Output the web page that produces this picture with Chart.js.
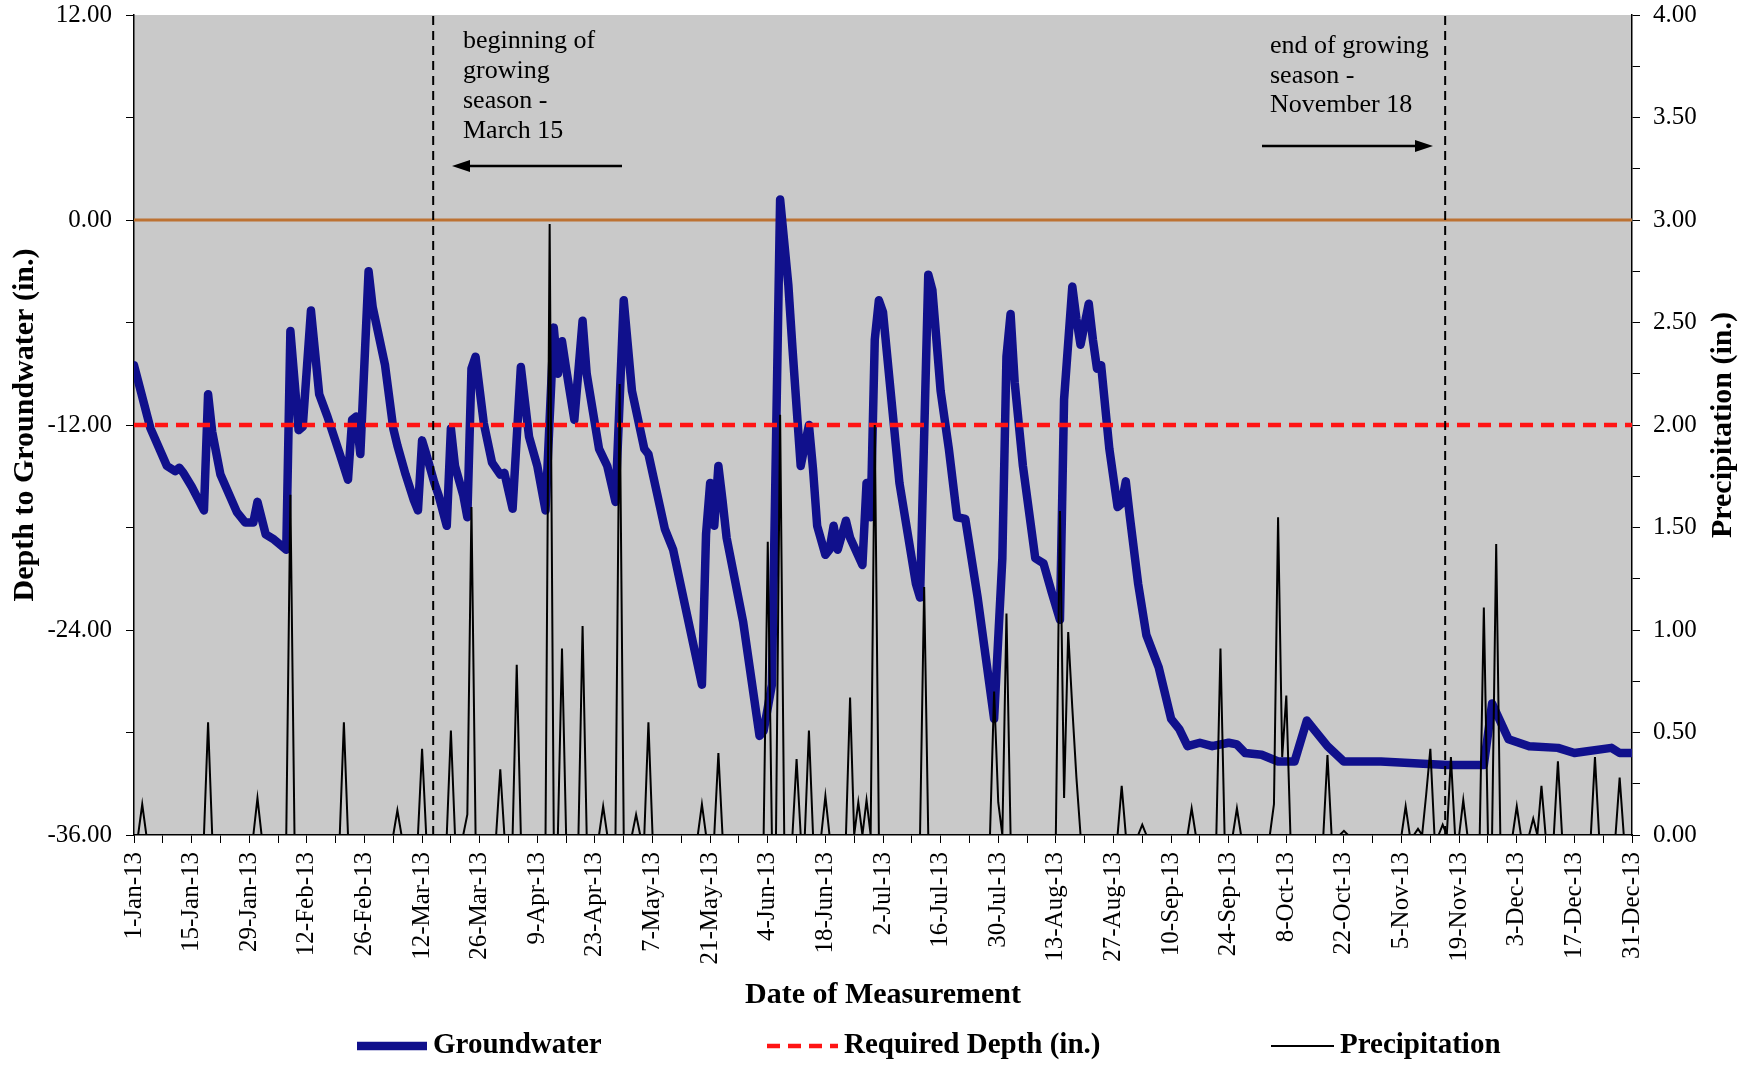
<!DOCTYPE html>
<html>
<head>
<meta charset="utf-8">
<title>Depth to Groundwater and Precipitation, 2013</title>
<script src="https://cdn.jsdelivr.net/npm/chart.js@4.4.1/dist/chart.umd.min.js"></script>
<style>
  html, body { margin: 0; padding: 0; background: #fff; }
  #wrap { width: 1748px; height: 1065px; }
</style>
</head>
<body>
<div id="wrap"><canvas id="gwChart" width="1748" height="1065"></canvas></div>
<script>
// Groundwater / precipitation chart for 2013 - Chart.js

// x tick labels, one every 14 days starting 1-Jan (day 0)
const dateTicks = ['1-Jan-13', '15-Jan-13', '29-Jan-13', '12-Feb-13', '26-Feb-13', '12-Mar-13', '26-Mar-13',
    '9-Apr-13', '23-Apr-13', '7-May-13', '21-May-13', '4-Jun-13', '18-Jun-13', '2-Jul-13', '16-Jul-13',
    '30-Jul-13', '13-Aug-13', '27-Aug-13', '10-Sep-13', '24-Sep-13', '8-Oct-13', '22-Oct-13', '5-Nov-13',
    '19-Nov-13', '3-Dec-13', '17-Dec-13', '31-Dec-13'];

// groundwater depth (in.) - day of year (0 = 1-Jan) and value at each turning point
const gwDay = [0, 4, 8, 10, 11, 12, 14, 17, 18, 19, 21, 25, 27, 29, 30, 32, 34, 37, 38, 40, 41, 43, 45, 47, 50,
    52, 53, 54, 55, 57, 58, 61, 63, 64, 66, 68, 69, 70, 71, 73, 74, 76, 77, 78, 80, 81, 82, 83, 85, 87, 89, 90,
    92, 94, 96, 98, 100, 102, 103, 104, 105, 107, 109, 110, 113, 115, 117, 119, 121, 124, 125, 129, 131, 138,
    139, 140, 141, 142, 143, 144, 148, 152, 153, 155, 157, 159, 160, 162, 164, 165, 166, 168, 169, 170, 171,
    173, 174, 177, 178, 179, 180, 181, 182, 186, 190, 191, 193, 194, 196, 198, 200, 202, 205, 209, 211, 212,
    213, 214, 216, 219, 221, 223, 225, 226, 228, 229, 230, 232, 233, 234, 235, 237, 239, 240, 241, 242, 244,
    246, 249, 252, 254, 256, 259, 262, 266, 268, 270, 274, 278, 282, 285, 287, 290, 294, 303, 311, 319, 328,
    330, 334, 339, 346, 350, 359, 361, 364];
const gwDepth = [-8.5, -12.2, -14.4, -14.7, -14.5, -14.8, -15.6, -17.0, -10.2, -12.4, -14.9, -17.1, -17.7,
    -17.7, -16.5, -18.4, -18.7, -19.3, -6.5, -12.3, -12.1, -5.3, -10.2, -11.5, -13.7, -15.2, -11.7, -11.5,
    -13.7, -3.0, -5.1, -8.5, -12.2, -13.2, -14.9, -16.4, -17.0, -12.9, -13.7, -15.4, -16.1, -17.9, -12.2,
    -14.4, -16.1, -17.4, -8.7, -8.0, -11.9, -14.2, -14.9, -14.8, -16.9, -8.6, -12.7, -14.4, -17.0, -6.3,
    -9.0, -7.1, -8.7, -11.7, -5.9, -9.0, -13.4, -14.4, -16.5, -4.7, -10.0, -13.4, -13.7, -18.1, -19.3,
    -27.2, -18.4, -15.4, -17.9, -14.4, -16.4, -18.6, -23.5, -30.2, -29.9, -27.2, 1.2, -3.8, -7.5, -14.4,
    -12.0, -14.6, -17.9, -19.6, -19.3, -17.9, -19.3, -17.6, -18.6, -20.2, -15.4, -17.4, -7.0, -4.7, -5.4,
    -15.4, -21.3, -22.1, -3.2, -4.1, -10.0, -13.4, -17.4, -17.5, -22.1, -29.2, -19.8, -8.0, -5.5, -9.5,
    -14.4, -19.8, -20.1, -21.8, -23.4, -10.5, -3.9, -5.8, -7.3, -4.9, -7.0, -8.7, -8.5, -13.4, -16.8,
    -16.6, -15.3, -17.4, -21.3, -24.3, -26.2, -29.2, -29.8, -30.8, -30.6, -30.8, -30.6, -30.7, -31.2,
    -31.3, -31.7, -31.7, -29.3, -29.9, -30.8, -31.7, -31.7, -31.8, -31.9, -31.9, -28.3, -30.4, -30.8,
    -30.9, -31.2, -30.9, -31.2, -31.2];

// daily precipitation (in.) - only days with rain, every other day is 0
const rainDay = [2, 18, 30, 38, 51, 64, 70, 77, 81, 82, 89, 93, 101, 104, 109, 114, 118, 122, 125, 138,
    142, 154, 157, 161, 164, 168, 174, 176, 178, 180, 192, 209, 210, 212, 225, 226, 227, 228, 229, 240,
    245, 257, 264, 268, 277, 278, 279, 280, 290, 294, 309, 312, 314, 315, 318, 320, 323, 328, 331, 336,
    340, 342, 346, 355, 361];
const rainInches = [0.15, 0.55, 0.18, 1.66, 0.55, 0.12, 0.42, 0.51, 0.10, 1.60, 0.32, 0.83, 2.98, 0.91,
    1.02, 0.14, 2.20, 0.10, 0.55, 0.15, 0.40, 1.43, 2.05, 0.37, 0.51, 0.19, 0.67, 0.16, 0.17, 2.00, 1.21,
    0.70, 0.16, 1.08, 1.58, 0.18, 0.99, 0.62, 0.28, 0.24, 0.05, 0.13, 0.91, 0.13, 0.15, 1.55, 0.38, 0.68,
    0.39, 0.02, 0.14, 0.03, 0.20, 0.42, 0.05, 0.38, 0.17, 1.11, 1.42, 0.14, 0.08, 0.24, 0.36, 0.38, 0.28];

// reference lines
const requiredDepth = -12;
const seasonLineDays = [72.7, 318.6];   // dashed lines, growing season start / end
const lastDay = 364;

// build the series the library needs
const gwPoints = gwDay.map((d, i) => ({x: d, y: gwDepth[i]}));
const rainDaily = new Array(lastDay + 1).fill(0);
rainDay.forEach((d, i) => { rainDaily[d] = rainInches[i]; });
const rainPoints = rainDaily.map((v, d) => ({x: d, y: v}));

const navy = '#10108C';
const red = '#FF1414';
const serif = '"Liberation Serif", "Times New Roman", serif';

Chart.defaults.font.family = serif;
Chart.defaults.color = '#000';

// gray plot area
const plotBackground = {
    id: 'plotBackground',
    beforeDraw(chart) {
        const {ctx, chartArea: a} = chart;
        ctx.save();
        ctx.fillStyle = '#C9C9C9';
        ctx.fillRect(a.left, a.top, a.right - a.left, a.bottom - a.top);
        ctx.restore();
    }
};

function drawArrow(ctx, x1, y, x2) {
    const dir = x2 > x1 ? 1 : -1;
    ctx.beginPath();
    ctx.lineWidth = 2.5;
    ctx.moveTo(x1, y);
    ctx.lineTo(x2 - dir * 12, y);
    ctx.stroke();
    ctx.beginPath();
    ctx.moveTo(x2, y);
    ctx.lineTo(x2 - dir * 18, y - 6);
    ctx.lineTo(x2 - dir * 18, y + 6);
    ctx.closePath();
    ctx.fill();
}

// season notes, right axis title and the legend row
const extras = {
    id: 'extras',
    afterDraw(chart) {
        const ctx = chart.ctx;
        const a = chart.chartArea;
        ctx.save();
        ctx.fillStyle = '#000';
        ctx.strokeStyle = '#000';

        ctx.font = '26px ' + serif;
        ctx.textAlign = 'left';
        ctx.textBaseline = 'alphabetic';
        ['beginning of', 'growing', 'season -', 'March 15'].forEach((t, i) => ctx.fillText(t, 463, 48 + i * 30));
        ['end of growing', 'season -', 'November 18'].forEach((t, i) => ctx.fillText(t, 1270, 53 + i * 29.5));
        drawArrow(ctx, 622, 166, 452);
        drawArrow(ctx, 1262, 146, 1433);

        // right axis title reads bottom to top like the left one
        ctx.save();
        ctx.translate(1723, (a.top + a.bottom) / 2);
        ctx.rotate(-Math.PI / 2);
        ctx.font = 'bold 30px ' + serif;
        ctx.textAlign = 'center';
        ctx.textBaseline = 'middle';
        ctx.fillText('Precipitation (in.)', 0, 0);
        ctx.restore();

        // legend
        const items = [
            {ds: chart.data.datasets[0], x: 357, len: 70},
            {ds: chart.data.datasets[1], x: 767, len: 71},
            {ds: chart.data.datasets[2], x: 1271, len: 63}
        ];
        const ly = 1046;
        ctx.font = 'bold 29px ' + serif;
        ctx.textBaseline = 'middle';
        items.forEach(it => {
            ctx.beginPath();
            ctx.strokeStyle = it.ds.borderColor;
            ctx.lineWidth = it.ds.borderWidth;
            ctx.setLineDash(it.ds.borderDash || []);
            ctx.moveTo(it.x, ly);
            ctx.lineTo(it.x + it.len, ly);
            ctx.stroke();
            ctx.setLineDash([]);
            ctx.fillText(it.ds.label, it.x + it.len + 6, ly);
        });
        ctx.restore();
    }
};

// fixed axis widths, and no extra room above the top tick label
function fixVertical(width) {
    return (scale) => {
        scale.width = width;
        scale.paddingTop = 0;
        scale.paddingBottom = 0;
    };
}

const ctx = document.getElementById('gwChart');

new Chart(ctx, {
    type: 'line',
    data: {
        datasets: [
            {
                label: 'Groundwater',
                data: gwPoints,
                yAxisID: 'y',
                borderColor: navy,
                borderWidth: 8.5,
                borderJoinStyle: 'round',
                borderCapStyle: 'round',
                pointRadius: 0,
                order: 3
            },
            {
                label: 'Required Depth (in.)',
                data: [{x: 0, y: requiredDepth}, {x: lastDay, y: requiredDepth}],
                yAxisID: 'y',
                borderColor: red,
                borderWidth: 4.5,
                borderDash: [13, 8],
                pointRadius: 0,
                order: 2
            },
            {
                label: 'Precipitation',
                data: rainPoints,
                yAxisID: 'y2',
                borderColor: '#000',
                borderWidth: 2,
                pointRadius: 0,
                order: 0
            },
            {
                label: 'zero',
                data: [{x: 0, y: 0}, {x: lastDay, y: 0}],
                yAxisID: 'y',
                borderColor: '#BD7232',
                borderWidth: 3,
                pointRadius: 0,
                order: 4
            },
            {
                label: 'season start',
                data: [{x: seasonLineDays[0], y: -36}, {x: seasonLineDays[0], y: 12}],
                yAxisID: 'y',
                borderColor: '#000',
                borderWidth: 2,
                borderDash: [9, 6],
                pointRadius: 0,
                order: 1
            },
            {
                label: 'season end',
                data: [{x: seasonLineDays[1], y: -36}, {x: seasonLineDays[1], y: 12}],
                yAxisID: 'y',
                borderColor: '#000',
                borderWidth: 2,
                borderDash: [9, 6],
                pointRadius: 0,
                order: 1
            }
        ]
    },
    options: {
        responsive: false,
        devicePixelRatio: 1,
        animation: false,
        layout: {
            padding: {top: 15, left: 0, right: 0, bottom: 0}
        },
        plugins: {
            legend: {display: false},
            tooltip: {enabled: false}
        },
        scales: {
            x: {
                type: 'linear',
                min: 0,
                max: lastDay,
                afterFit: (scale) => { scale.height = 230; },
                ticks: {
                    stepSize: 7,
                    autoSkip: false,
                    maxRotation: 90,
                    minRotation: 90,
                    padding: 9,
                    font: {size: 25},
                    callback: (v) => (v % 14 === 0 ? dateTicks[v / 14] : '')
                },
                grid: {drawOnChartArea: false, color: '#000', tickLength: 8},
                border: {color: '#000', width: 1.5},
                title: {
                    display: true,
                    text: 'Date of Measurement',
                    font: {size: 30, weight: 'bold'},
                    padding: {top: 0, bottom: 52}
                }
            },
            y: {
                position: 'left',
                min: -36,
                max: 12,
                afterFit: fixVertical(134),
                ticks: {
                    stepSize: 6,
                    padding: 14,
                    font: {size: 25},
                    callback: (v) => (v % 12 === 0 ? v.toFixed(2) : '')
                },
                grid: {drawOnChartArea: false, color: '#000', tickLength: 8},
                border: {color: '#000', width: 1.5},
                title: {
                    display: true,
                    text: 'Depth to Groundwater (in.)',
                    font: {size: 30, weight: 'bold'},
                    padding: {top: 7, bottom: 0}
                }
            },
            y2: {
                position: 'right',
                min: 0,
                max: 4,
                afterFit: fixVertical(116),
                ticks: {
                    stepSize: 0.25,
                    padding: 13,
                    font: {size: 25},
                    callback: (v) => (Math.round(v * 100) % 50 === 0 ? v.toFixed(2) : '')
                },
                grid: {drawOnChartArea: false, color: '#000', tickLength: 8},
                border: {color: '#000', width: 1.5}
            }
        }
    },
    plugins: [plotBackground, extras]
});
</script>
</body>
</html>
